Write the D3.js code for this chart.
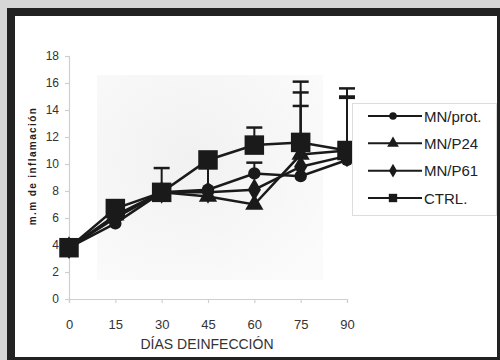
<!DOCTYPE html>
<html>
<head>
<meta charset="utf-8">
<script src="https://cdn.jsdelivr.net/npm/d3@7"></script>
<style>
  html, body { margin: 0; padding: 0; background: #d6d6d6; }
  svg { display: block; font-family: Arial, "Liberation Sans", sans-serif; }
  .tick-label { fill: #333; }
</style>
</head>
<body>
<div id="chart"></div>
<script>
// Días de infección
const days = [0, 15, 30, 45, 60, 75, 90];
const yTicks = [0, 2, 4, 6, 8, 10, 12, 14, 16, 18];

// mm de inflamación por grupo
const mnProt = [3.8, 5.6, 7.9, 8.1, 9.3, 9.1, 10.3];
const mnP24  = [3.8, 6.2, 7.9, 7.6, 7.0, 10.7, 11.0];
const mnP61  = [3.8, 6.0, 7.9, 7.9, 8.1, 9.8, 10.6];
const ctrl   = [3.8, 6.7, 7.9, 10.3, 11.4, 11.6, 11.0];

// barras de error (solo +)
const errProt = [0, 0, 0, 2.0, 0.8, 0, 4.7];
const errP24  = [0, 0, 0, 0, 0, 4.6, 3.9];
const errP61  = [0, 0, 0, 0, 0, 4.5, 0];
const errCtrl = [0, 0, 1.8, 0, 1.3, 4.5, 4.6];

const seriesNames = ["MN/prot.", "MN/P24", "MN/P61", "CTRL."];

const W = 500, H = 360;
const INK = "#1a1a1a";

const svg = d3.select("#chart").append("svg")
  .attr("width", W).attr("height", H);

// marco negro
svg.append("rect")
  .attr("x", 7).attr("y", 8).attr("width", W - 7).attr("height", H - 8)
  .attr("fill", "#222");
svg.append("rect")
  .attr("x", 15).attr("y", 16).attr("width", 482).attr("height", 341)
  .attr("fill", "#fff");

const x = d3.scaleLinear().domain([0, 90]).range([69, 347]);
const y = d3.scaleLinear().domain([0, 18]).range([299, 56]);

// fondo gris del área de trazado
const defs = svg.append("defs");
const grad = defs.append("radialGradient")
  .attr("id", "plot-bg").attr("cx", "40%").attr("cy", "40%").attr("r", "75%");
grad.append("stop").attr("offset", "0%").attr("stop-color", "#f1f1f1");
grad.append("stop").attr("offset", "100%").attr("stop-color", "#fbfbfb");
svg.append("rect")
  .attr("x", 97).attr("y", 75).attr("width", 226).attr("height", 205)
  .attr("fill", "url(#plot-bg)");

// Ejes
const axisColor = "#cfcfcf";
const yAxis = svg.append("g")
  .attr("transform", `translate(${x(0)},0)`)
  .call(d3.axisLeft(y).tickValues(yTicks).tickSize(4).tickPadding(6));
const xAxis = svg.append("g")
  .attr("transform", `translate(0,${y(0)})`)
  .call(d3.axisBottom(x).tickValues(days).tickSize(4).tickPadding(17));

[yAxis, xAxis].forEach(a => {
  a.select(".domain").attr("stroke", axisColor).attr("stroke-width", 1.2);
  a.selectAll(".tick line").attr("stroke", axisColor).attr("stroke-width", 1.2);
  a.selectAll(".tick text").attr("class", "tick-label").attr("fill", "#333");
});
yAxis.selectAll(".tick text").attr("font-size", 12);
xAxis.selectAll(".tick text").attr("font-size", 13);

// Títulos
svg.append("text")
  .attr("x", 207).attr("y", 349)
  .attr("text-anchor", "middle")
  .attr("font-size", 14).attr("fill", "#333")
  .text("DÍAS DEINFECCIÓN");

svg.append("text")
  .attr("transform", "translate(36,166) rotate(-90)")
  .attr("text-anchor", "middle")
  .attr("font-size", 10).attr("font-weight", "bold")
  .attr("letter-spacing", 1.4).attr("fill", "#222")
  .text("m.m de inflamación");

// Series
const series = [
  { name: seriesNames[0], values: mnProt, err: errProt, shape: d3.symbolCircle, size: 120 },
  { name: seriesNames[1], values: mnP24,  err: errP24,  shape: d3.symbolTriangle, size: 145 },
  { name: seriesNames[2], values: mnP61,  err: errP61,  shape: d3.symbolDiamond, size: 150 },
  { name: seriesNames[3], values: ctrl,   err: errCtrl, shape: d3.symbolSquare, size: 380 }
];

const line = d3.line()
  .x((d, i) => x(days[i]))
  .y(d => y(d));

// barras de error
series.forEach(s => {
  s.err.forEach((e, i) => {
    if (!e) return;
    const cx = x(days[i]);
    const top = y(s.values[i] + e);
    svg.append("line")
      .attr("x1", cx).attr("x2", cx)
      .attr("y1", y(s.values[i])).attr("y2", top)
      .attr("stroke", INK).attr("stroke-width", 2);
    svg.append("line")
      .attr("x1", cx - 8).attr("x2", cx + 8)
      .attr("y1", top).attr("y2", top)
      .attr("stroke", INK).attr("stroke-width", 2.5);
  });
});

series.forEach(s => {
  svg.append("path")
    .datum(s.values)
    .attr("d", line)
    .attr("fill", "none")
    .attr("stroke", INK)
    .attr("stroke-width", 2.5);
});

series.forEach(s => {
  svg.append("g").selectAll("path")
    .data(s.values)
    .join("path")
    .attr("transform", (d, i) => `translate(${x(days[i])},${y(d)})`)
    .attr("d", d3.symbol().type(s.shape).size(s.size))
    .attr("fill", INK);
});

// Leyenda
const leg = svg.append("g");
leg.append("rect")
  .attr("x", 352.5).attr("y", 103.5).attr("width", 144).attr("height", 112)
  .attr("fill", "#fff").attr("stroke", "#dcdcdc");

const legendY = d3.scalePoint().domain(seriesNames).range([116, 198]);
const legendSizes = [45, 60, 55, 70];

series.forEach((s, i) => {
  const ly = legendY(s.name);
  leg.append("line")
    .attr("x1", 368).attr("x2", 422)
    .attr("y1", ly).attr("y2", ly)
    .attr("stroke", INK).attr("stroke-width", 2);
  leg.append("path")
    .attr("transform", `translate(393,${ly})`)
    .attr("d", d3.symbol().type(s.shape).size(legendSizes[i]))
    .attr("fill", INK);
  leg.append("text")
    .attr("x", 424).attr("y", ly + 5.5)
    .attr("font-size", 15).attr("fill", "#222")
    .text(s.name);
});
</script>
</body>
</html>
